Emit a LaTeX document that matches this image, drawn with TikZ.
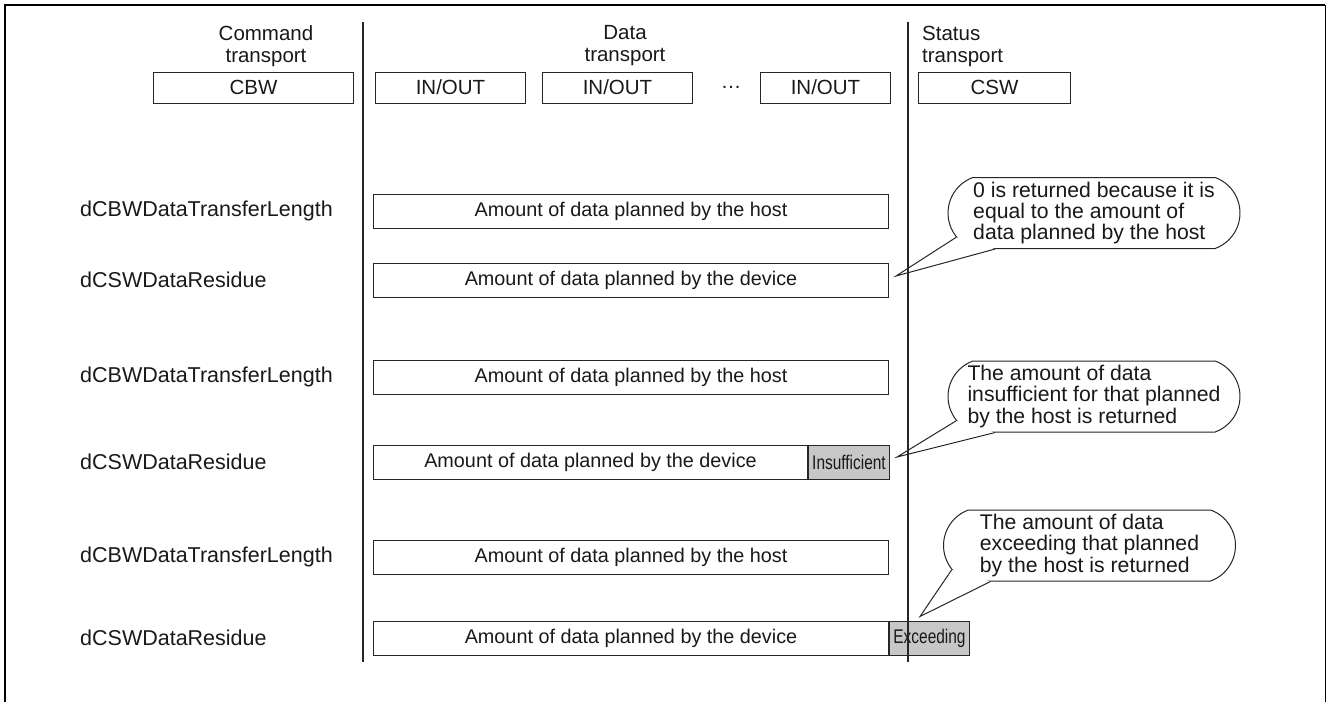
\documentclass[tikz,border=0pt]{standalone}
\usepackage{fontspec}
\setmainfont{Liberation Sans}
\usepackage{graphicx}
\usetikzlibrary{positioning,shapes.misc}

\tikzset{
  every node/.style={font=\fontsize{20.5}{22}\selectfont, inner sep=0pt, text=black!90},
  header/.style={align=center},
  fieldname/.style={anchor=west, font=\fontsize{21.5}{22}\selectfont},
  field/.style={draw=black!85, line width=1pt, minimum height=34pt, anchor=west},
  packet/.style={field, minimum height=31pt},
  amount/.style={field, font=\fontsize{19.8}{21}\selectfont},
  greyfield/.style={amount, fill=black!22},
  bubble/.style={draw=black!85, fill=white, line width=1pt, rounded rectangle,
    rounded rectangle arc length=140, minimum width=292pt, minimum height=71pt,
    align=left, font=\fontsize{21.2}{21.3}\selectfont},
  tail/.style={draw=black!85, line width=1pt, line join=miter}
}

\begin{document}
\begin{tikzpicture}[x=1pt,y=-1pt]
\useasboundingbox (0,0) rectangle (1326,702);

% frame
\draw[line width=2pt] (5,702) -- (5,5) -- (1325,5);
\draw[line width=1pt] (1325,5) -- (1325,702);

% phase headers
\node[header] (cmdhead) at (266,46) {Command\\transport};
\node[header] (datahead) at (625,46) {Data\\transport};
\node[header, align=left, anchor=west] (stathead) at (922,46) {Status\\transport};

% transport packets
\node[packet, minimum width=200pt] (cbw) at (153,87.5) {CBW};
\node[packet, minimum width=150pt] (io1) at (375,87.5) {IN/OUT};
\node[packet, minimum width=150pt] (io2) at (542,87.5) {IN/OUT};
\node (dots) at (731,87.5) {\dots};
\node[packet, minimum width=130pt] (io3) at (760,87.5) {IN/OUT};
\node[packet, minimum width=152pt] (csw) at (918,87.5) {CSW};

% planned lengths
\foreach \y/\n in {211/1, 377/2, 557/3} {
  \node[fieldname] (len\n) at (80,\y) {dCBWDataTransferLength};
  \node[amount, minimum width=515pt] (host\n) at (373,\y) {Amount of data planned by the host};
}

% residues
\foreach \y/\n in {280/1, 462/2, 638/3}
  \node[fieldname] (res\n) at (80,\y) {dCSWDataResidue};
\node[amount, minimum width=515pt] (dev1) at (373,280) {Amount of data planned by the device};
\node[amount, minimum width=434pt] (dev2) at (373,462) {Amount of data planned by the device};
\node[greyfield, minimum width=81pt] (short) at (dev2.east) {\scalebox{0.78}[1]{Insufficient}};
\node[amount, minimum width=515pt] (dev3) at (373,638) {Amount of data planned by the device};
\node[greyfield, minimum width=80pt] (over) at (dev3.east) {\scalebox{0.78}[1]{Exceeding}};

% notes
\node[bubble] (note1) at (1094,213) {0 is returned because it is\\equal to the amount of\\data planned by the host};
\coordinate (tip1) at ([xshift=7pt,yshift=4pt]dev1.east);
\fill[white] (note1.190) -- (tip1) -- (note1.200) -- cycle;
\draw[tail] (note1.190) -- (tip1) -- (note1.200);

\node[bubble] (note2) at (1094,396.5) {The amount of data\\insufficient for that planned\\by the host is returned};
\coordinate (tip2) at ([xshift=7pt,yshift=5pt]short.east);
\fill[white] (note2.190) -- (tip2) -- (note2.200) -- cycle;
\draw[tail] (note2.190) -- (tip2) -- (note2.200);

\node[bubble] (note3) at (1089.5,545.5) {The amount of data\\exceeding that planned\\by the host is returned};
\coordinate (tip3) at ([xshift=31pt,yshift=4pt]over.north west);
\fill[white] (note3.190) -- (tip3) -- (note3.200) -- cycle;
\draw[tail] (note3.190) -- (tip3) -- (note3.200);

% phase borders
\draw[line width=1.2pt, black!85] (363,22) -- (363,662);
\draw[line width=1.2pt, black!85] (908,22) -- (908,662);

\end{tikzpicture}
\end{document}
